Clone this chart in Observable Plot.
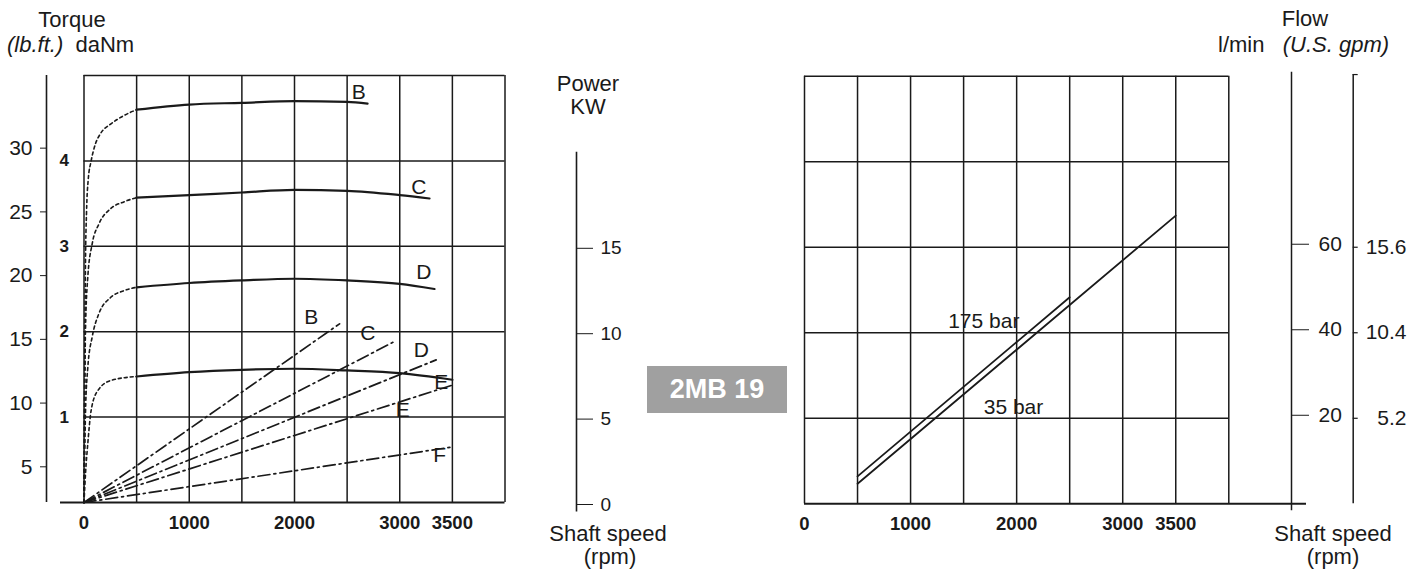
<!DOCTYPE html>
<html><head><meta charset="utf-8">
<script src="https://cdn.jsdelivr.net/npm/d3@7"></script>
<script src="https://cdn.jsdelivr.net/npm/@observablehq/plot@0.6"></script>
<style>
body{margin:0;background:#fff;font-family:"Liberation Sans",Arial,sans-serif;}
#wrap{position:relative;width:1426px;height:576px;overflow:hidden;background:#fff;}
#wrap svg{position:absolute;left:0;top:0;}
.t{position:absolute;color:#1a1a1a;font-size:22px;line-height:1;white-space:nowrap;}
.c{transform:translateX(-50%);}
.badge{position:absolute;left:647px;top:366px;width:140px;height:47px;background:#a0a0a0;color:#fff;font-weight:bold;font-size:27px;line-height:47px;text-align:center;}
</style></head><body>
<div id="wrap">
  <div class="t c" style="left:72px;top:9px">Torque</div>
  <div class="t" style="left:7px;top:34px"><i>(lb.ft.)</i>&nbsp;&nbsp;daNm</div>
  <div class="t c" style="left:588px;top:73px">Power</div>
  <div class="t c" style="left:588px;top:96px">KW</div>
  <div class="t c" style="left:608px;top:523px">Shaft speed</div>
  <div class="t c" style="left:610px;top:546px">(rpm)</div>
  <div class="t c" style="left:1305px;top:8px">Flow</div>
  <div class="t" style="left:1218px;top:34px">l/min&nbsp;&nbsp;&nbsp;<i>(U.S. gpm)</i></div>
  <div class="t c" style="left:1333px;top:523px">Shaft speed</div>
  <div class="t c" style="left:1333px;top:546px">(rpm)</div>
  <div class="badge">2MB 19</div>
</div>
<script>
// ---------- data ----------
const rpmGrid = [0, 500, 1000, 1500, 2000, 2500, 3000, 3500, 4000];
const rpmTicks = [0, 1000, 2000, 3000, 3500];
const torqueGrid = [1, 2, 3, 4, 5];           // daNm
const torqueTicks = [1, 2, 3, 4];
const lbftTicks = [5, 10, 15, 20, 25, 30];
const lbftDomain = [2.2, 35.7];
const powerTicks = [0, 5, 10, 15];             // kW
const powerDomain = [0, 25];
const flowGrid = [20, 40, 60, 80, 100];        // l/min
const flowTicks = [20, 40, 60];
const gpmTicks = [5.2, 10.4, 15.6];
const gpmDomain = [0, 26];

// torque (rpm, daNm): dashed start-up part and solid part
const riseB = [[0,0],[6,1.5],[14,2.8],[24,3.4],[40,3.78],[68,4.0],[109,4.2],[157,4.32],[252,4.43],[378,4.53],[500,4.60]];
const riseC = [[0,0],[6,1.0],[14,2.01],[36,2.64],[78,3.03],[141,3.26],[252,3.44],[378,3.52],[500,3.57]];
const riseD = [[0,0],[14,1.04],[36,1.58],[78,1.94],[141,2.21],[252,2.40],[378,2.48],[500,2.52]];
const riseE = [[0,0],[15,0.35],[36,0.69],[68,1.08],[131,1.31],[258,1.43],[500,1.475]];
const torqueB = [[500,4.60],[1000,4.66],[1500,4.68],[2000,4.70],[2500,4.69],[2694,4.67]];
const torqueC = [[500,3.57],[1000,3.60],[1500,3.63],[2000,3.66],[2500,3.65],[3000,3.60],[3283,3.56]];
const torqueD = [[500,2.52],[1000,2.57],[1500,2.60],[2000,2.62],[2500,2.60],[3000,2.56],[3330,2.50]];
const torqueE = [[500,1.475],[1000,1.526],[1500,1.554],[2000,1.566],[2500,1.546],[3000,1.514],[3500,1.437]];
const torqueLabels = [["B",2611,4.80],["C",3181,3.69],["D",3229,2.70],["E",3394,1.41]];

// power (rpm, kW)
const powerB = [[0,0],[2428,10.46]];
const powerC = [[0,0],[2966,9.48]];
const powerD = [[0,0],[3346,8.35]];
const powerE = [[0,0],[3489,6.85]];
const powerF = [[0,0],[3489,3.24]];
const powerLabels = [["B",2159,10.85],["C",2696,9.88],["D",3204,8.90],["E",3029,5.39],["F",3378,2.75]];

// flow (rpm, l/min)
const flow175 = [[500,6.4],[2500,48.3]];
const flow35 = [[500,4.7],[3500,67.4]];
const flowLabels = [["175 bar",1690,42.7],["35 bar",1970,22.6]];

// ---------- helpers ----------
const rows = (name, pts, k) => pts.map(([r, v]) => ({curve: name, rpm: r, [k]: v}));
const labelRows = (arr, k) => arr.map(([n, r, v]) => ({curve: n, rpm: r, [k]: v}));
const riseRows = [...rows("B",riseB,"t"),...rows("C",riseC,"t"),...rows("D",riseD,"t"),...rows("E",riseE,"t")];
const solidRows = [...rows("B",torqueB,"t"),...rows("C",torqueC,"t"),...rows("D",torqueD,"t"),...rows("E",torqueE,"t")];
const powerRows = [...rows("B",powerB,"kw"),...rows("C",powerC,"kw"),...rows("D",powerD,"kw"),...rows("E",powerE,"kw"),...rows("F",powerF,"kw")];
const flowRows = [...rows("175 bar",flow175,"q"),...rows("35 bar",flow35,"q")];

const W = 1426, H = 576, ink = "#1a1a1a";
const font = "'Liberation Sans', Arial, sans-serif";
const narrow = "'Liberation Sans Narrow', 'Liberation Sans', Arial, sans-serif";
const base = {width: W, height: H, style: {background: "transparent", overflow: "visible", fontFamily: font, color: ink}};

// layout (pixels)
const L0 = 83.5, L1 = 504.5, LT = 75, LB = 502;      // left grid frame
const powerAxisX = 576, lbftAxisX = 46;
const R0 = 804, R1 = 1228.3, RT = 75.7, RB = 503.3;  // right grid frame
const flowAxisX = 1291, gpmAxisX = 1352.7, gpmLabelX = 1406;
const xMaxPow = 4000 * (powerAxisX - L0) / (L1 - L0);
const fmt = d => String(d);

const wrap = document.getElementById("wrap");
const add = (p) => wrap.appendChild(p);

// lb.ft axis
add(Plot.plot({...base, marginLeft: lbftAxisX, marginRight: W - lbftAxisX - 10, marginTop: LT, marginBottom: H - LB,
  x: {domain: [0, 1], axis: null}, y: {domain: lbftDomain},
  marks: [
    Plot.ruleX([0], {stroke: ink, strokeWidth: 1.6}),
    Plot.axisY({anchor: "left", ticks: lbftTicks, tickSize: 6, tickPadding: 8, fontSize: 21, label: null, tickFormat: fmt})
  ]}));

// left torque chart
add(Plot.plot({...base, marginLeft: L0, marginRight: W - L1, marginTop: LT, marginBottom: H - LB,
  x: {domain: [0, 4000]}, y: {domain: [0, 5]},
  marks: [
    Plot.ruleX(rpmGrid, {stroke: ink, strokeWidth: 1.5}),
    Plot.ruleY(torqueGrid, {stroke: ink, strokeWidth: 1.5}),
    Plot.ruleY([0], {stroke: ink, strokeWidth: 2, insetLeft: -(L0 - 60)}),
    Plot.axisX({ticks: rpmTicks, tickSize: 0, tickPadding: 13, fontSize: 18.5, fontWeight: "bold", label: null, tickFormat: fmt}),
    Plot.axisY({ticks: torqueTicks, tickSize: 0, tickPadding: 15, fontSize: 17, fontWeight: "bold", label: null, tickFormat: fmt}),
    Plot.line(riseRows, {x: "rpm", y: "t", z: "curve", stroke: ink, strokeWidth: 1.6, strokeDasharray: "3,3", curve: "monotone-x"}),
    Plot.line(solidRows, {x: "rpm", y: "t", z: "curve", stroke: ink, strokeWidth: 2.2, curve: "monotone-x"}),
    Plot.text(labelRows(torqueLabels, "t"), {x: "rpm", y: "t", text: "curve", fontSize: 21, fill: ink})
  ]}));

// power overlay (lines + KW axis)
add(Plot.plot({...base, marginLeft: L0, marginRight: W - powerAxisX, marginTop: LT, marginBottom: H - LB,
  x: {domain: [0, xMaxPow], axis: null}, y: {domain: powerDomain},
  marks: [
    Plot.ruleX([xMaxPow], {y1: -0.55, y2: 20.5, stroke: ink, strokeWidth: 1.6}),
    Plot.axisY({anchor: "right", ticks: powerTicks, tickSize: 16, tickPadding: 8, fontSize: 19, fontFamily: narrow, dy: 2, label: null, tickFormat: fmt}),
    Plot.line(powerRows, {x: "rpm", y: "kw", z: "curve", stroke: ink, strokeWidth: 1.7, strokeDasharray: "12,4,2,4"}),
    Plot.text(labelRows(powerLabels, "kw"), {x: "rpm", y: "kw", text: "curve", fontSize: 21, fill: ink})
  ]}));

// right flow chart
add(Plot.plot({...base, marginLeft: R0, marginRight: W - R1, marginTop: RT, marginBottom: H - RB,
  x: {domain: [0, 4000]}, y: {domain: [0, 100], axis: null},
  marks: [
    Plot.ruleX(rpmGrid, {stroke: ink, strokeWidth: 1.5}),
    Plot.ruleY(flowGrid, {stroke: ink, strokeWidth: 1.5}),
    Plot.ruleY([0], {stroke: ink, strokeWidth: 2, insetRight: -(1306 - R1)}),
    Plot.axisX({ticks: rpmTicks, tickSize: 0, tickPadding: 13, fontSize: 18.5, fontWeight: "bold", label: null, tickFormat: fmt}),
    Plot.line(flowRows, {x: "rpm", y: "q", z: "curve", stroke: ink, strokeWidth: 1.8}),
    Plot.text(labelRows(flowLabels, "q"), {x: "rpm", y: "q", text: "curve", fontSize: 21, fill: ink})
  ]}));

// l/min axis
add(Plot.plot({...base, marginLeft: flowAxisX - 10, marginRight: W - flowAxisX, marginTop: RT, marginBottom: H - RB,
  x: {domain: [0, 1], axis: null}, y: {domain: [0, 100]},
  marks: [
    Plot.ruleX([1], {y1: -1.6, y2: 100.9, stroke: ink, strokeWidth: 1.5}),
    Plot.axisY({anchor: "right", ticks: flowTicks, tickSize: 17, tickPadding: 10, fontSize: 21, dy: -3, label: null, tickFormat: fmt})
  ]}));

// US gpm axis
add(Plot.plot({...base, marginLeft: gpmAxisX, marginRight: W - gpmLabelX, marginTop: RT, marginBottom: H - RB,
  x: {domain: [0, 1], axis: null}, y: {domain: gpmDomain, axis: null},
  marks: [
    Plot.ruleX([0], {y1: 0, y2: gpmDomain[1] + 0.1, stroke: ink, strokeWidth: 1.5}),
    Plot.ruleY([...gpmTicks, gpmDomain[1] + 0.1], {stroke: ink, strokeWidth: 1.2, insetRight: (gpmLabelX - gpmAxisX) - 5}),
    Plot.text(gpmTicks, {y: d => d, frameAnchor: "right", textAnchor: "end", text: d => d.toFixed(1), fontSize: 21, fill: ink})
  ]}));
</script></body></html>
